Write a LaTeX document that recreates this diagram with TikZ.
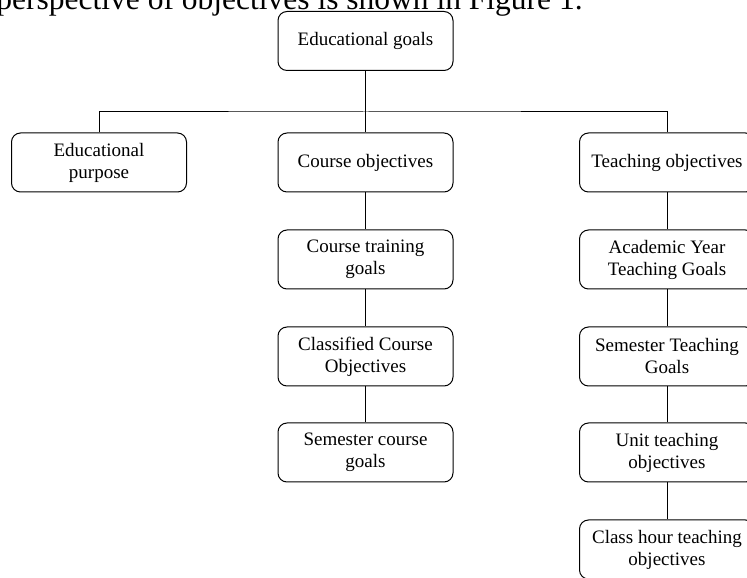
\documentclass[tikz,border=0pt]{standalone}
\usepackage{fontspec}
\setmainfont{Liberation Serif}
\usepackage{tikz}
\begin{document}
\begin{tikzpicture}
                [x=1pt,y=1pt,line width=1pt,every node/.style={draw,rounded corners=9pt,minimum width=175pt,minimum height=59pt,align=center,font=\fontsize{19}{22}\selectfont}]
                \clip (0,0) rectangle (747,578);
                \node[draw=none,anchor=base west,minimum width=0pt,minimum height=0pt,inner sep=0pt,font=\fontsize{31.5}{36}\selectfont] (cap) at (-4,568.5) {perspective of objectives is shown in Figure 1.};

                \node (goals) at (365.5,537) {Educational goals};
                \coordinate (bus) at (365.5,466);

                \node (purpose) at (99,415.5) {Educational\\purpose};
                \node (course) at (365.5,415.5) {Course objectives};
                \node (teach) at (667,415.5) {Teaching objectives};

                \node (ctrain) at (365.5,318.5) {Course training\\goals};
                \node (cclass) at (365.5,221.5) {Classified Course\\Objectives};
                \node (csem) at (365.5,125.5) {Semester course\\goals};

                \node (tyear) at (667,318.5) {Academic Year\\Teaching Goals};
                \node (tsem) at (667,221.5) {Semester Teaching\\Goals};
                \node (tunit) at (667,125.5) {Unit teaching\\objectives};
                \node (thour) at (667,28.5) {Class hour teaching\\objectives};

                
                \draw (goals) -- (course);
                \draw (purpose) |- (bus) -| (teach);
                \draw (course) -- (ctrain);
                \draw (ctrain) -- (cclass);
                \draw (cclass) -- (csem);
                \draw (teach) -- (tyear);
                \draw (tyear) -- (tsem);
                \draw (tsem) -- (tunit);
                \draw (tunit) -- (thour);
            \end{tikzpicture}
\end{document}
